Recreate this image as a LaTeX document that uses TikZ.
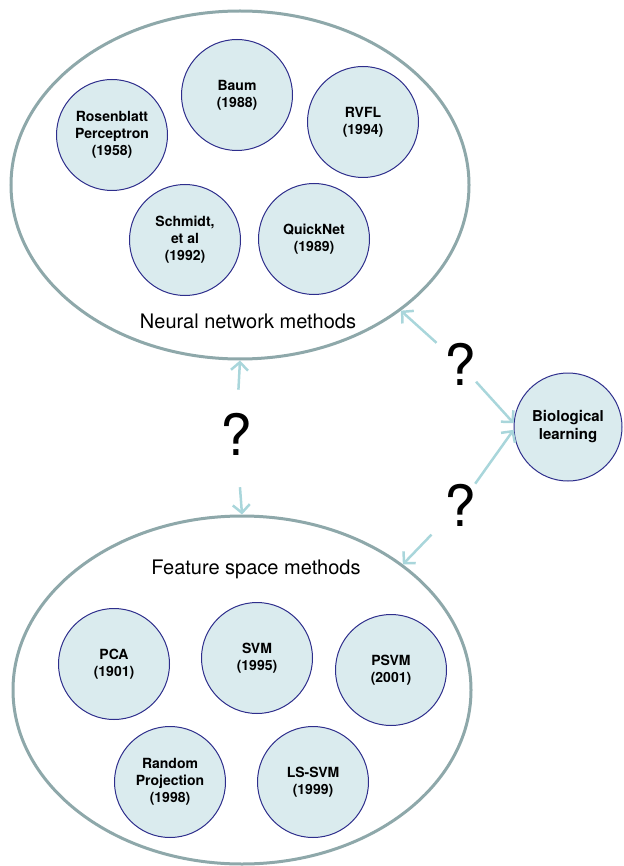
\documentclass[tikz,border=0pt]{standalone}
\usepackage{fontspec}
\setmainfont{TeX Gyre Heros}
\usepackage{tikz}
\usepackage{xcolor}
\usetikzlibrary{arrows.meta,positioning,shapes.geometric}
\definecolor{rimgray}{HTML}{8EA8AA}
\definecolor{linkblue}{HTML}{A9D6DB}
\definecolor{cellfill}{HTML}{DAEBEE}
\definecolor{celldraw}{HTML}{2E2E8C}
\tikzset{%
	group/.style  = {draw=rimgray, line width=3pt, ellipse, minimum width=458pt, minimum height=348pt},
	method/.style = {draw=celldraw, fill=cellfill, line width=1pt, circle, minimum size=111pt, inner sep=0pt, align=center, font=\fontsize{14}{17}\selectfont\bfseries},
	title/.style  = {font=\fontsize{20}{24}\selectfont},
	query/.style  = {inner sep=0pt, font=\fontsize{57}{60}\selectfont},
	link/.style   = {draw=linkblue, line width=2.5pt, -{Straight Barb[length=8pt,width=17pt]}},
}

\begin{document}
\begin{tikzpicture}[x=1pt,y=-1pt]
	\useasboundingbox (0,0) rectangle (623,866);
	% neural network methods
	\node[group] (neural) at (240,185) {};
	\node[method] (rosen) at (112,135) {Rosenblatt\\Perceptron\\(1958)};
	\node[method] (baum) at (237,95) {Baum\\(1988)};
	\node[method] (rvfl) at (363,122) {RVFL\\(1994)};
	\node[method] (schmidt) at (185,240) {Schmidt,\\et al\\(1992)};
	\node[method] (quick) at (314,239) {QuickNet\\(1989)};
	\node[title] (ntitle) at (248,321) {Neural network methods};
	% feature space methods
	\node[group] (feature) at (242,690) {};
	\node[title] (ftitle) at (256,569) {Feature space methods};
	\node[method] (pca) at (114,664) {PCA\\(1901)};
	\node[method] (svm) at (257,658) {SVM\\(1995)};
	\node[method] (psvm) at (391,670) {PSVM\\(2001)};
	\node[method] (rproj) at (170,782) {Random\\Projection\\(1998)};
	\node[method] (lssvm) at (313,782) {LS-SVM\\(1999)};
	% biological learning
	\node[method, minimum size=108pt, font=\fontsize{15}{18}\selectfont\bfseries] (bio) at (568,427) {Biological\\learning};
	\node[query] (qa) at (460,364) {?};
	\node[query] (qb) at (460,505) {?};
	\node[query] (qc) at (236,434) {?};
	\draw[link, shorten <=10pt] (qa) -- (neural.-38);
	\draw[link] (qa) -- (bio.176);
	\draw[link] (qb) -- (bio.183);
	\draw[link, shorten <=18pt] (qb) -- (feature.38);
	\draw[link, shorten <=23pt] (qc) -- (neural.south);
	\draw[link, shorten <=32pt] (qc) -- (feature.north);
\end{tikzpicture}
\end{document}
